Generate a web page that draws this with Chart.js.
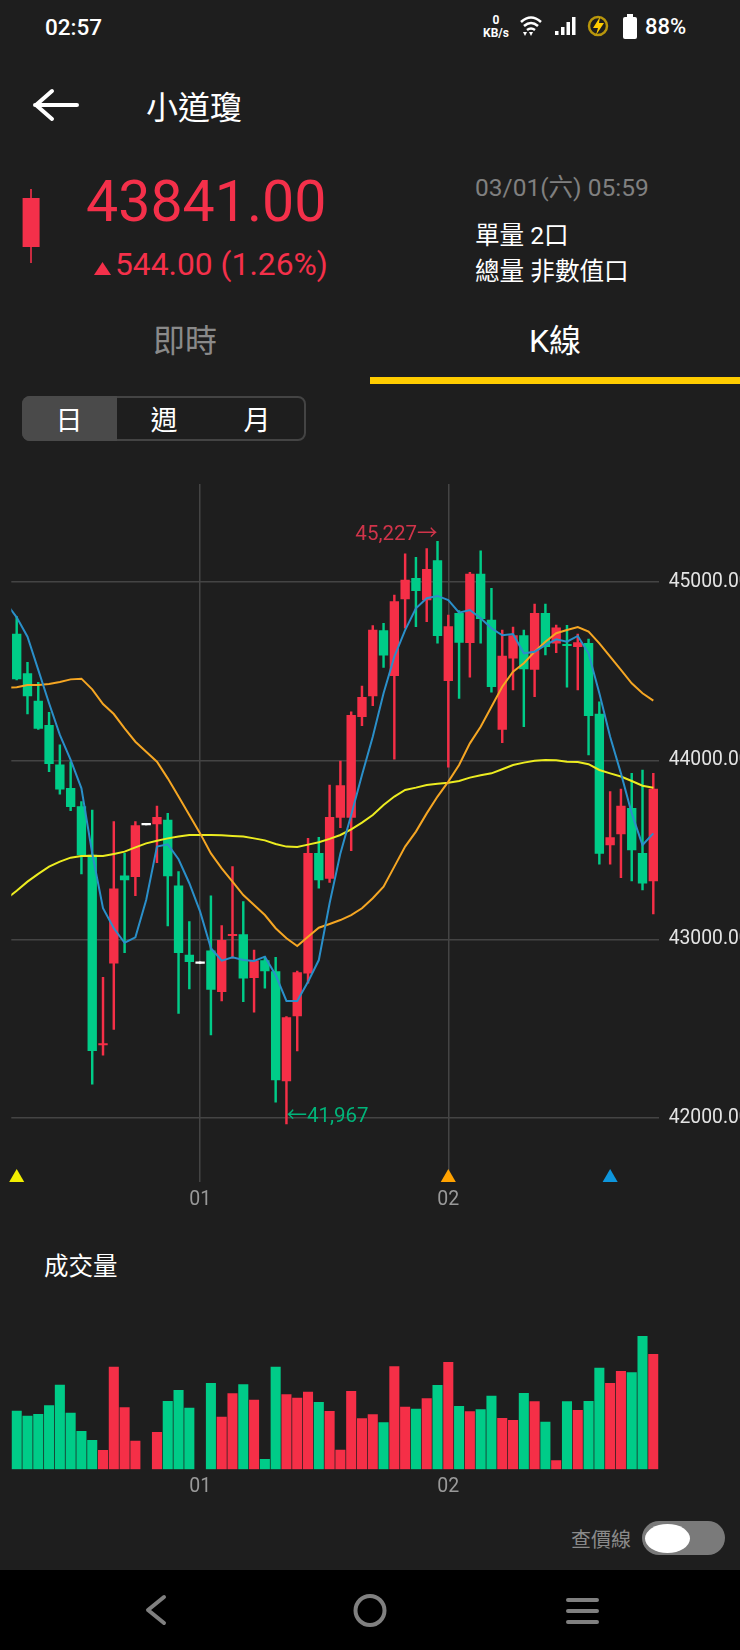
<!DOCTYPE html>
<html>
<head>
<meta charset="utf-8">
<title>小道瓊</title>
<script src="https://cdn.jsdelivr.net/npm/chart.js@4"></script>
<style>
  html, body { margin: 0; padding: 0; background: #1e1e1e; }
  body { position: relative; width: 740px; height: 1650px; overflow: hidden; color: #fff;
         font-family: Roboto, "Noto Sans CJK TC", sans-serif; }
  .t { position: absolute; white-space: nowrap; line-height: 1; transform: translateY(-50%); }
  .c { transform: translate(-50%, -50%); }
  .box { position: absolute; }
  canvas { position: absolute; left: 0; }
  svg { position: absolute; left: 0; top: 0; }
</style>
</head>
<body>
<!-- status bar -->
<div class="t" style="left:45px;top:27px;font-size:22.5px;font-weight:500">02:57</div>
<div class="t c" style="left:496px;top:20px;font-size:12px;font-weight:700">0</div>
<div class="t c" style="left:496px;top:33px;font-size:12px;font-weight:700">KB/s</div>
<div class="t" style="left:645px;top:27px;font-size:22px;font-weight:500">88%</div>

<!-- header -->
<div class="t" style="left:146px;top:108px;font-size:32px">小道瓊</div>
<div class="t" style="left:86px;top:202px;font-size:57.3px;color:#f4304a">43841.00</div>
<div class="t" style="left:115px;top:265px;font-size:31.8px;color:#f4304a">544.00 (1.26%)</div>
<div class="t" style="left:475px;top:188px;font-size:24.5px;color:#808080">03/01(六) 05:59</div>
<div class="t" style="left:475px;top:236px;font-size:24.6px">單量 2口</div>
<div class="t" style="left:475px;top:272px;font-size:24.6px">總量 非數值口</div>

<!-- tabs -->
<div class="t c" style="left:185px;top:341px;font-size:32px;color:#8a8a8a">即時</div>
<div class="t c" style="left:555px;top:341px;font-size:32px">K線</div>
<div class="box" style="left:370px;top:377px;width:370px;height:7px;background:#ffcc00"></div>

<div class="box" style="left:22px;top:396px;width:284px;height:45px;box-sizing:border-box;border:2px solid #444;border-radius:8px"></div>
<div class="box" style="left:22px;top:396px;width:95px;height:45px;background:#4a4a4a;border-radius:8px 0 0 8px"></div>
<div class="t c" style="left:69px;top:421px;font-size:27px">日</div>
<div class="t c" style="left:164px;top:421px;font-size:27px">週</div>
<div class="t c" style="left:257px;top:421px;font-size:27px">月</div>

<div class="t" style="left:44px;top:1267px;font-size:24.5px">成交量</div>
<div class="t" style="left:571px;top:1540px;font-size:20px;color:#8a8a8a">查價線</div>

<!-- toggle and nav bar -->
<div class="box" style="left:642px;top:1521px;width:83px;height:34px;background:#7a7a7a;border-radius:17px"></div>
<div class="box" style="left:645px;top:1524px;width:45px;height:29px;background:#fff;border-radius:50%"></div>
<div class="box" style="left:0;top:1570px;width:740px;height:80px;background:#000"></div>

<canvas id="priceChart" width="740" height="745" style="top:470px"></canvas>
<canvas id="volumeChart" width="740" height="175" style="top:1330px"></canvas>

<svg width="740" height="1650">
  <!-- status icons -->
  <g fill="none" stroke="#fff" stroke-width="2.6">
    <path d="M521 22 Q531 13 541 22"/><path d="M524 26 Q531 20 538 26"/><path d="M527 30 Q531 27 535 30"/>
  </g>
  <path d="M523 32 l4 0 l-2 4z M529 32 l4 0 l-2 4z" fill="#fff"/>
  <g fill="#fff">
    <rect x="555" y="31" width="3.5" height="4"/><rect x="561" y="27" width="3.5" height="8"/>
    <rect x="566.5" y="22" width="3.5" height="13"/><rect x="572" y="17" width="3.5" height="18"/>
  </g>
  <circle cx="598" cy="26" r="9" fill="none" stroke="#b8960c" stroke-width="2.5"/>
  <path d="M600 17 L593 28 L598 28 L596 35 L604 23 L599 23z" fill="#ffcc00"/>
  <rect x="623" y="17" width="14" height="22" rx="2" fill="#fff"/><rect x="627" y="14" width="6" height="3" fill="#fff"/>
  <!-- back arrow -->
  <path d="M35 105 L77 105 M52 91 L36 105 L52 119" fill="none" stroke="#fff" stroke-width="4" stroke-linecap="round" stroke-linejoin="round"/>
  <!-- small candle -->
  <rect x="30.2" y="189" width="1.6" height="74" fill="#f4304a"/>
  <rect x="22.6" y="198" width="17" height="49" fill="#f4304a"/>
  <path d="M94 275 L111 275 L102.500 262z" fill="#f4304a"/>
  <!-- nav icons -->
  <path d="M164 1597 L148 1610 L164 1623" fill="none" stroke="#808080" stroke-width="4" stroke-linecap="round" stroke-linejoin="round"/>
  <circle cx="370" cy="1610.500" r="14.500" fill="none" stroke="#808080" stroke-width="4"/>
  <path d="M568 1600 H597 M568 1611 H597 M568 1622 H597" stroke="#808080" stroke-width="4" stroke-linecap="round"/>
</svg>

<script>
// price values
const openPrices = [44709,44487,44334,44198,43976,43845,43743,43472,42409,42866,
  43355,43351,43649,43646,43668,43299,42912,42874,42935,42707,
  43021,43026,42786,42881,42819,42207,42571,42810,43481,43341,
  43683,43683,44246,44362,44728,44476,44905,45021,44899,45120,
  44448,44825,44661,45045,44787,44175,44573,44700,44511,44825,
  44657,44651,44638,44657,44261,43528,43590,43733,43481,43327];
const closePrices = [44457,44362,44181,43983,43841,43743,43472,42377,42416,43282,
  43332,43636,43640,43683,43355,42925,42875,42865,42720,42994,
  43028,42782,42879,42823,42213,42562,42814,43481,43332,43683,
  43860,44254,44355,44731,44590,44890,45011,44952,45071,44700,
  44750,44662,45045,44795,44414,44586,44700,44513,44825,44638,
  44744,44644,44661,44252,43481,43569,43746,43500,43314,43841];
const highPrices = [44806,44550,44439,44271,44088,43994,43771,43724,42787,43659,
  43481,43659,43649,43746,43705,43379,43099,42874,43244,43077,
  43407,43211,42940,42903,42899,42567,42823,43565,43571,43864,
  43998,44274,44418,44756,44769,44927,45157,45138,45187,45227,
  44815,44840,45054,45174,44965,44731,44748,44731,44877,44877,
  44759,44758,44709,44681,44330,43827,43841,43929,43948,43929];
const lowPrices = [44452,44261,44175,43939,43812,43720,43366,42190,42351,42496,
  42925,43244,43640,43429,43075,42586,42722,42865,42465,42655,
  42894,42651,42592,42726,42088,41967,42375,42754,43286,43319,
  43625,43496,44196,44308,44522,44009,44741,44750,44778,44657,
  43963,44349,44467,44657,44383,44101,44396,44190,44358,44592,
  44605,44411,44396,44032,43420,43420,43345,43327,43276,43142];
const noTradeDays = [12, 17]; // white dashes, no volume

// moving averages, first value belongs to the day before the first candle
const blueLine = [44884,44802,44694,44508,44321,44144,44004,43845,43481,43174,43062,
  42981,43011,43220,43519,43532,43448,43314,43155,42950,42881,
  42899,42884,42879,42903,42800,42655,42655,42763,42884,43202,
  43481,43696,43920,44134,44377,44582,44731,44853,44909,44922,
  44899,44828,44843,44797,44741,44702,44709,44601,44610,44647,
  44679,44666,44698,44601,44377,44134,43929,43705,43528,43593];
const orangeLine = [44407,44411,44424,44424,44429,44440,44455,44459,44399,44317,44261,
  44181,44106,44050,43994,43901,43799,43696,43593,43481,43397,
  43323,43248,43192,43136,43062,43006,42963,43015,43065,43086,
  43108,43136,43174,43230,43295,43407,43519,43603,43705,43799,
  43883,43976,44097,44190,44302,44414,44498,44545,44610,44666,
  44713,44731,44748,44722,44657,44582,44508,44433,44377,44336];
const yellowLine = [43224,43272,43323,43366,43407,43435,43457,43466,43468,43466,43478,
  43491,43515,43537,43552,43565,43575,43584,43584,43584,43582,
  43578,43575,43565,43554,43534,43519,43517,43530,43543,43562,
  43584,43616,43653,43696,43752,43799,43836,43849,43864,43871,
  43877,43886,43905,43918,43929,43952,43976,43989,44000,44004,
  44002,43994,43993,43980,43948,43929,43911,43886,43860,43849];

const volumes = [175,160,165,191,253,169,114,87,57,307,
  185,85,null,111,204,237,184,null,258,157,
  227,254,208,30,307,224,214,232,201,174,
  58,234,152,164,140,308,187,181,212,252,
  321,189,173,179,220,153,147,228,203,142,
  26,203,177,204,304,258,294,290,399,345];
const volumeSides = "GGGGGGGGRRRR-RGGG-GRRGRGGRRRGRRRRRGRRGRGRGRGGRRGRGRGRGGRRGGR";

const priceTicks = [42000, 43000, 44000, 45000];
const dayTicks = [17, 40];
const dayLabels = ["01", "02"];
const markerDays = [0, 40, 55];
const markerPrices = [41666, 41666, 41666];
const markerColors = ["#f2ee00", "#ffa200", "#0e96dc"];
const maxLabel = { day: 39, price: 45227, text: "45,227→" };
const minLabel = { day: 25, price: 41967, text: "←41,967" };

const red = "#f52f47";
const green = "#00cc88";
const tickFont = "Roboto, 'Noto Sans CJK TC', sans-serif";

const candleColor = (i) => {
  if (noTradeDays.includes(i)) return "#ffffff";
  return closePrices[i] >= openPrices[i] ? red : green;
};
const asPoints = (values, first) => values.map((y, i) => ({ x: i + first, y: y }));
const maDataset = (values, color, order) => ({
  type: "line",
  data: asPoints(values, -1),
  borderColor: color,
  borderWidth: 2,
  pointRadius: 0,
  tension: 0,
  clip: 0,
  order: order,
});

// x axis shared by both charts: one slot per day
const dayAxis = (pad) => ({
  type: "linear",
  min: -0.5,
  max: 59.5,
  offset: false,
  afterBuildTicks: (scale) => { scale.ticks = dayTicks.map((value) => ({ value: value })); },
  afterFit: (scale) => { scale.height = pad.height; },
  grid: { display: pad.grid, offset: false, color: "#444", lineWidth: 1.5, drawTicks: false },
  border: { display: false },
  ticks: {
    autoSkip: false,
    maxRotation: 0,
    padding: pad.tickPadding,
    color: "#999999",
    font: { size: 19.5, family: tickFont },
    callback: (value) => dayLabels[dayTicks.indexOf(value)],
  },
});

const extremeLabels = {
  id: "extremeLabels",
  afterDatasetsDraw(chart) {
    const { ctx, scales } = chart;
    ctx.save();
    ctx.font = "20.5px " + tickFont;
    ctx.textBaseline = "middle";
    ctx.fillStyle = "#d0344a";
    ctx.textAlign = "right";
    ctx.fillText(maxLabel.text, scales.x.getPixelForValue(maxLabel.day), scales.y.getPixelForValue(maxLabel.price) - 7);
    ctx.fillStyle = "#00b57a";
    ctx.textAlign = "left";
    ctx.fillText(minLabel.text, scales.x.getPixelForValue(minLabel.day), scales.y.getPixelForValue(minLabel.price) - 7);
    ctx.restore();
  },
};

new Chart(document.getElementById("priceChart"), {
  type: "bar",
  data: {
    datasets: [
      maDataset(blueLine, "#2a8fc9", 0),
      maDataset(orangeLine, "#f5a623", 1),
      maDataset(yellowLine, "#ecec20", 2),
      {
        data: openPrices.map((o, i) => ({ x: i, y: [o, closePrices[i]] })),
        backgroundColor: openPrices.map((o, i) => candleColor(i)),
        barThickness: 8.7,
        grouped: false,
        borderSkipped: false,
        order: 3,
      },
      {
        data: highPrices.map((h, i) => ({ x: i, y: [lowPrices[i], h] })),
        backgroundColor: highPrices.map((h, i) => candleColor(i)),
        barThickness: 1.8,
        grouped: false,
        borderSkipped: false,
        order: 4,
      },
      {
        type: "scatter",
        data: markerDays.map((d, i) => ({ x: d, y: markerPrices[i] })),
        backgroundColor: markerColors,
        pointBackgroundColor: markerColors,
        pointBorderWidth: 0,
        pointStyle: "triangle",
        pointRadius: 8.7,
        clip: false,
        order: 0,
      },
    ],
  },
  options: {
    responsive: false,
    animation: false,
    events: [],
    layout: { padding: { left: 11.3, top: 14, right: 0, bottom: 0 } },
    plugins: { legend: { display: false }, tooltip: { enabled: false } },
    scales: {
      x: dayAxis({ height: 33, grid: true, tickPadding: 6 }),
      y: {
        position: "right",
        min: 41641.8,
        max: 45548.5,
        afterBuildTicks: (scale) => { scale.ticks = priceTicks.map((value) => ({ value: value })); },
        afterFit: (scale) => {
          scale.width = 81.3;
          // keep the label overflow out of the plot area
          scale.paddingTop = 0;
          scale.paddingBottom = 0;
        },
        grid: { color: "#444", lineWidth: 1.5, drawTicks: false },
        border: { display: false },
        ticks: {
          padding: 10,
          color: "#e4e4e4",
          font: { size: 19.3, family: tickFont },
          callback: (value) => value.toFixed(2),
        },
      },
    },
  },
  plugins: [extremeLabels],
});

new Chart(document.getElementById("volumeChart"), {
  type: "bar",
  data: {
    datasets: [
      {
        data: asPoints(volumes, 0),
        backgroundColor: volumes.map((v, i) => (volumeSides[i] === "R" ? red : green)),
        barThickness: 9.4,
        grouped: false,
      },
    ],
  },
  options: {
    responsive: false,
    animation: false,
    events: [],
    layout: { padding: { left: 11.3, right: 81.3, top: 0, bottom: 0 } },
    plugins: { legend: { display: false }, tooltip: { enabled: false } },
    scales: {
      x: dayAxis({ height: 35.7, grid: false, tickPadding: 6 }),
      y: { display: false, min: 0, max: 418 },
    },
  },
});
</script>
</body>
</html>
